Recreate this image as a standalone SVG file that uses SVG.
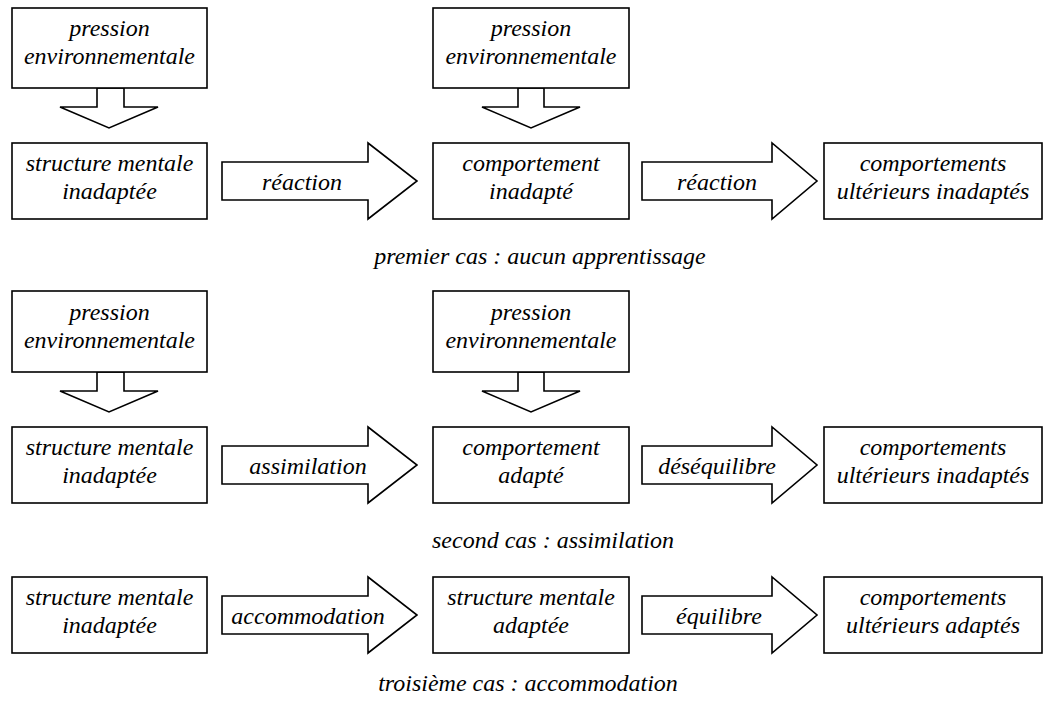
<svg xmlns="http://www.w3.org/2000/svg" width="1045" height="702" viewBox="0 0 1045 702">
<style>
.box{fill:#fff;stroke:#000;stroke-width:1.6}
.arr{fill:#fff;stroke:#000;stroke-width:1.6;stroke-linejoin:miter}
</style>
<rect width="1045" height="702" fill="#fff"/>
<g id="connectors">
<polygon class="arr" points="97,88 97,107 60,107 109,128 158,107 124,107 124,88"/>
<polygon class="arr" points="518,88 518,107 482,107 531,128 580,107 544,107 544,88"/>
<polygon class="arr" points="222,162 368,162 368,143 417,181 368,219 368,200 222,200"/>
<polygon class="arr" points="642,162 772,162 772,143 817,181 772,219 772,200 642,200"/>
<polygon class="arr" points="97,372 97,391 60,391 109,412 158,391 124,391 124,372"/>
<polygon class="arr" points="518,372 518,391 482,391 531,412 580,391 544,391 544,372"/>
<polygon class="arr" points="222,446 368,446 368,427 417,465 368,503 368,484 222,484"/>
<polygon class="arr" points="642,446 772,446 772,427 817,465 772,503 772,484 642,484"/>
<polygon class="arr" points="222,596 368,596 368,577 417,615 368,653 368,634 222,634"/>
<polygon class="arr" points="642,596 772,596 772,577 817,615 772,653 772,634 642,634"/>
<g font-family="Liberation Serif" font-style="italic" font-size="24" text-anchor="middle" fill="#000">
<text x="302" y="190">réaction</text>
<text x="717" y="190">réaction</text>
<text x="308" y="474">assimilation</text>
<text x="717" y="474">déséquilibre</text>
<text x="308" y="624">accommodation</text>
<text x="719" y="624">équilibre</text>
</g>
</g>
<g font-family="Liberation Serif" font-style="italic" font-size="24" text-anchor="middle" fill="#000">
<g id="p1">
<rect class="box" x="12" y="8" width="195" height="80"/>
<text x="109.5" y="36">pression</text>
<text x="109.5" y="64">environnementale</text>
</g>
<g id="p2">
<rect class="box" x="433" y="8" width="196" height="80"/>
<text x="531" y="36">pression</text>
<text x="531" y="64">environnementale</text>
</g>
<g id="s1">
<rect class="box" x="12" y="143" width="195" height="76"/>
<text x="109.5" y="171">structure mentale</text>
<text x="109.5" y="199">inadaptée</text>
</g>
<g id="c1">
<rect class="box" x="433" y="143" width="196" height="76"/>
<text x="531" y="171">comportement</text>
<text x="531" y="199">inadapté</text>
</g>
<g id="u1">
<rect class="box" x="824" y="143" width="218" height="76"/>
<text x="933" y="171">comportements</text>
<text x="933" y="199">ultérieurs inadaptés</text>
</g>
<g id="cap1"><text x="540" y="264">premier cas : aucun apprentissage</text></g>
<g id="p3">
<rect class="box" x="12" y="291" width="195" height="81"/>
<text x="109.5" y="320">pression</text>
<text x="109.5" y="348">environnementale</text>
</g>
<g id="p4">
<rect class="box" x="433" y="291" width="196" height="81"/>
<text x="531" y="320">pression</text>
<text x="531" y="348">environnementale</text>
</g>
<g id="s2">
<rect class="box" x="12" y="427" width="195" height="76"/>
<text x="109.5" y="455">structure mentale</text>
<text x="109.5" y="483">inadaptée</text>
</g>
<g id="c2">
<rect class="box" x="433" y="427" width="196" height="76"/>
<text x="531" y="455">comportement</text>
<text x="531" y="483">adapté</text>
</g>
<g id="u2">
<rect class="box" x="824" y="427" width="218" height="76"/>
<text x="933" y="455">comportements</text>
<text x="933" y="483">ultérieurs inadaptés</text>
</g>
<g id="cap2"><text x="553" y="548">second cas : assimilation</text></g>
<g id="s3">
<rect class="box" x="12" y="577" width="195" height="76"/>
<text x="109.5" y="605">structure mentale</text>
<text x="109.5" y="633">inadaptée</text>
</g>
<g id="sa3">
<rect class="box" x="433" y="577" width="196" height="76"/>
<text x="531" y="605">structure mentale</text>
<text x="531" y="633">adaptée</text>
</g>
<g id="u3">
<rect class="box" x="824" y="577" width="218" height="76"/>
<text x="933" y="605">comportements</text>
<text x="933" y="633">ultérieurs adaptés</text>
</g>
<g id="cap3"><text x="528" y="691">troisième cas : accommodation</text></g>
</g>
</svg>
